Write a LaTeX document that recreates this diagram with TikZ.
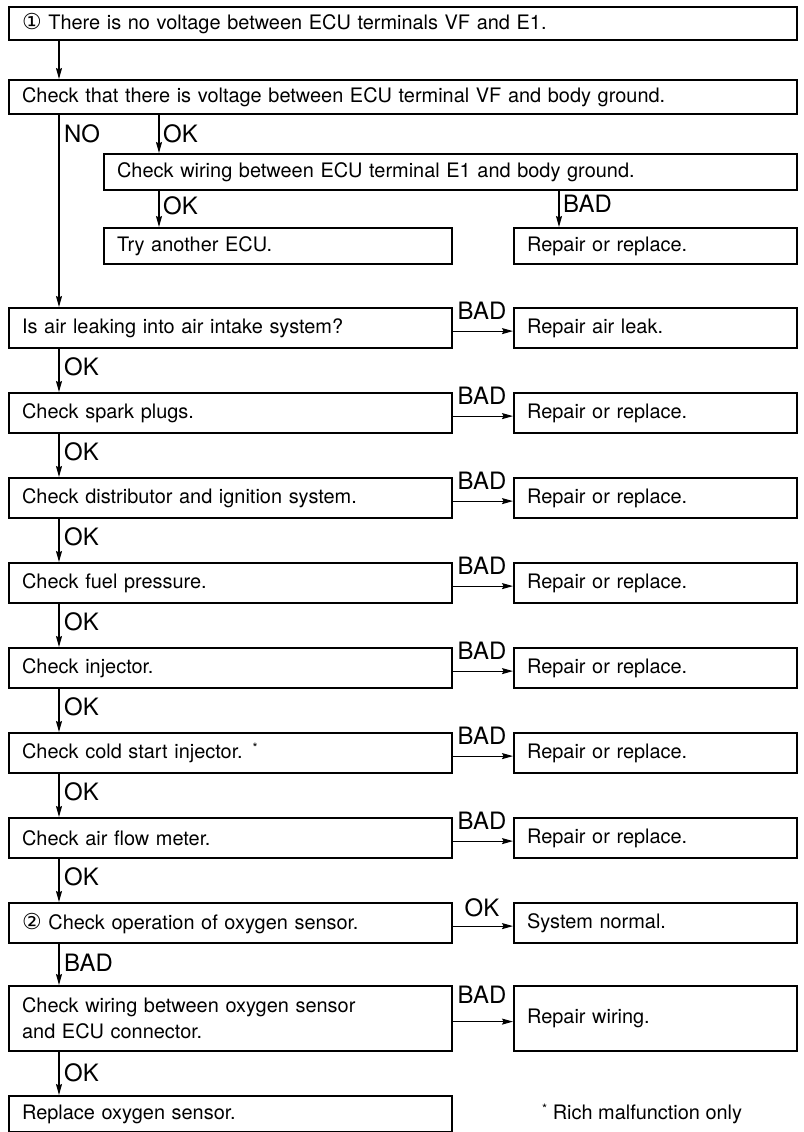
\documentclass[tikz,border=0pt]{standalone}
\usepackage{fontspec}
\setmainfont{TeX Gyre Heros}
\newfontfamily\symfont{DejaVu Sans}
\usetikzlibrary{positioning}
\usetikzlibrary{arrows.meta}

\newcommand{\cnum}[1]{{\symfont\fontsize{22}{22}\selectfont #1}}
\newcommand{\starmark}{\raisebox{6bp}{\fontsize{13}{13}\selectfont *}}

\begin{document}
\begin{tikzpicture}[
        x = 1bp, y = -1bp, % page units, y grows downwards
        > = {Stealth[length=11bp, width=6bp, inset=1.5bp]}, % arrow head style
        every node/.style = {font=\fontsize{20}{26}\selectfont},
        box/.style = {draw, line width=2.2bp, anchor=north west, inner xsep=13bp, inner ysep=0bp, align=left},
        lw/.style = {text width=417bp}, % left column
        rw/.style = {text width=257bp}, % right column
        lbl/.style = {font=\fontsize{24}{24}\selectfont, inner sep=0bp},
        link/.style = {->, line width=1.2bp}
        ]
  \useasboundingbox (0,0) rectangle (804,1132);

  \coordinate (trunk) at (59,0);
  \coordinate (side) at (159,0);
  \coordinate (fork) at (559,0);

  % top part
  \node[box, text width=762bp, minimum height=33bp] (novolt) at (8,6) {\cnum{①} There is no voltage between ECU terminals VF and E1.};
  \node[box, text width=762bp, minimum height=34bp] (vfcheck) at (8,79) {Check that there is voltage between ECU terminal VF and body ground.};
  \node[box, text width=667bp, minimum height=36bp] (e1check) at (103,153) {Check wiring between ECU terminal E1 and body ground.};
  \node[box, text width=322bp, minimum height=36bp] (newecu) at (103,227) {Try another ECU.};
  \node[box, rw, minimum height=36bp] (e1fix) at (513,227) {Repair or replace.};

  % main chain
  \node[box, lw, minimum height=40bp] (leak) at (8,307) {Is air leaking into air intake system?};
  \node[box, rw, minimum height=40bp] (leakfix) at (513,307) {Repair air leak.};
  \node[box, lw, minimum height=40bp] (plugs) at (8,392) {Check spark plugs.};
  \node[box, rw, minimum height=40bp] (plugsfix) at (513,392) {Repair or replace.};
  \node[box, lw, minimum height=40bp] (ign) at (8,477) {Check distributor and ignition system.};
  \node[box, rw, minimum height=40bp] (ignfix) at (513,477) {Repair or replace.};
  \node[box, lw, minimum height=40bp] (fuel) at (8,562) {Check fuel pressure.};
  \node[box, rw, minimum height=40bp] (fuelfix) at (513,562) {Repair or replace.};
  \node[box, lw, minimum height=40bp] (inj) at (8,647) {Check injector.};
  \node[box, rw, minimum height=40bp] (injfix) at (513,647) {Repair or replace.};
  \node[box, lw, minimum height=40bp] (cold) at (8,732) {Check cold start injector. \starmark};
  \node[box, rw, minimum height=40bp] (coldfix) at (513,732) {Repair or replace.};
  \node[box, lw, minimum height=40bp] (afm) at (8,817) {Check air flow meter.};
  \node[box, rw, minimum height=40bp] (afmfix) at (513,817) {Repair or replace.};
  \node[box, lw, minimum height=40bp] (oxy) at (8,902) {\cnum{②} Check operation of oxygen sensor.};
  \node[box, rw, minimum height=40bp] (normal) at (513,902) {System normal.};
  \node[box, lw, minimum height=65bp] (oxywire) at (8,985) {Check wiring between oxygen sensor\\and ECU connector.};
  \node[box, rw, minimum height=65bp] (wirefix) at (513,985) {Repair wiring.};
  \node[box, lw, minimum height=36bp] (oxynew) at (8,1095) {Replace oxygen sensor.};

  \node[anchor=west, inner sep=0bp] (note) at (542,1114) {\starmark\ Rich malfunction only};

  % arrows
  \draw[link] (novolt.south -| trunk) -- (vfcheck.north -| trunk);
  \draw[link] (vfcheck.south -| trunk) -- (leak.north -| trunk);
  \draw[link] (vfcheck.south -| side) -- (e1check.north -| side);
  \draw[link] (e1check.south -| side) -- (newecu.north -| side);
  \draw[link] (e1check.south -| fork) -- (e1fix.north -| fork);

  \draw[link] (leak.south -| trunk) -- (plugs.north -| trunk);
  \draw[link] (plugs.south -| trunk) -- (ign.north -| trunk);
  \draw[link] (ign.south -| trunk) -- (fuel.north -| trunk);
  \draw[link] (fuel.south -| trunk) -- (inj.north -| trunk);
  \draw[link] (inj.south -| trunk) -- (cold.north -| trunk);
  \draw[link] (cold.south -| trunk) -- (afm.north -| trunk);
  \draw[link] (afm.south -| trunk) -- (oxy.north -| trunk);
  \draw[link] (oxy.south -| trunk) -- (oxywire.north -| trunk);
  \draw[link] (oxywire.south -| trunk) -- (oxynew.north -| trunk);

  \draw[link] ([yshift=-3bp]leak.east) -- ([yshift=-3bp]leakfix.west);
  \draw[link] ([yshift=-3bp]plugs.east) -- ([yshift=-3bp]plugsfix.west);
  \draw[link] ([yshift=-3bp]ign.east) -- ([yshift=-3bp]ignfix.west);
  \draw[link] ([yshift=-3bp]fuel.east) -- ([yshift=-3bp]fuelfix.west);
  \draw[link] ([yshift=-3bp]inj.east) -- ([yshift=-3bp]injfix.west);
  \draw[link] ([yshift=-3bp]cold.east) -- ([yshift=-3bp]coldfix.west);
  \draw[link] ([yshift=-3bp]afm.east) -- ([yshift=-3bp]afmfix.west);
  \draw[link] ([yshift=-3bp]oxy.east) -- ([yshift=-3bp]normal.west);
  \draw[link] ([yshift=-3bp]oxywire.east) -- ([yshift=-3bp]wirefix.west);

  % labels
  \node[lbl, anchor=west] (lno) at (64,134) {NO};
  \node[lbl, anchor=west] (lok1) at (163,134) {OK};
  \node[lbl, anchor=west] (lok2) at (163,206) {OK};
  \node[lbl, anchor=west] (lbad1) at (563,204) {BAD};

  \node[lbl, anchor=west] (lok3) at (64,367) {OK};
  \node[lbl, anchor=west] (lok4) at (64,452) {OK};
  \node[lbl, anchor=west] (lok5) at (64,537) {OK};
  \node[lbl, anchor=west] (lok6) at (64,622) {OK};
  \node[lbl, anchor=west] (lok7) at (64,707) {OK};
  \node[lbl, anchor=west] (lok8) at (64,792) {OK};
  \node[lbl, anchor=west] (lok9) at (64,877) {OK};
  \node[lbl, anchor=west] (lbad2) at (64,963) {BAD};
  \node[lbl, anchor=west] (lok10) at (64,1073) {OK};

  \node[lbl] (lbad3) at (482,311) {BAD};
  \node[lbl] (lbad4) at (482,396) {BAD};
  \node[lbl] (lbad5) at (482,481) {BAD};
  \node[lbl] (lbad6) at (482,566) {BAD};
  \node[lbl] (lbad7) at (482,651) {BAD};
  \node[lbl] (lbad8) at (482,736) {BAD};
  \node[lbl] (lbad9) at (482,821) {BAD};
  \node[lbl] (lok11) at (482,908) {OK};
  \node[lbl] (lbad10) at (482,995) {BAD};

\end{tikzpicture}
\end{document}
